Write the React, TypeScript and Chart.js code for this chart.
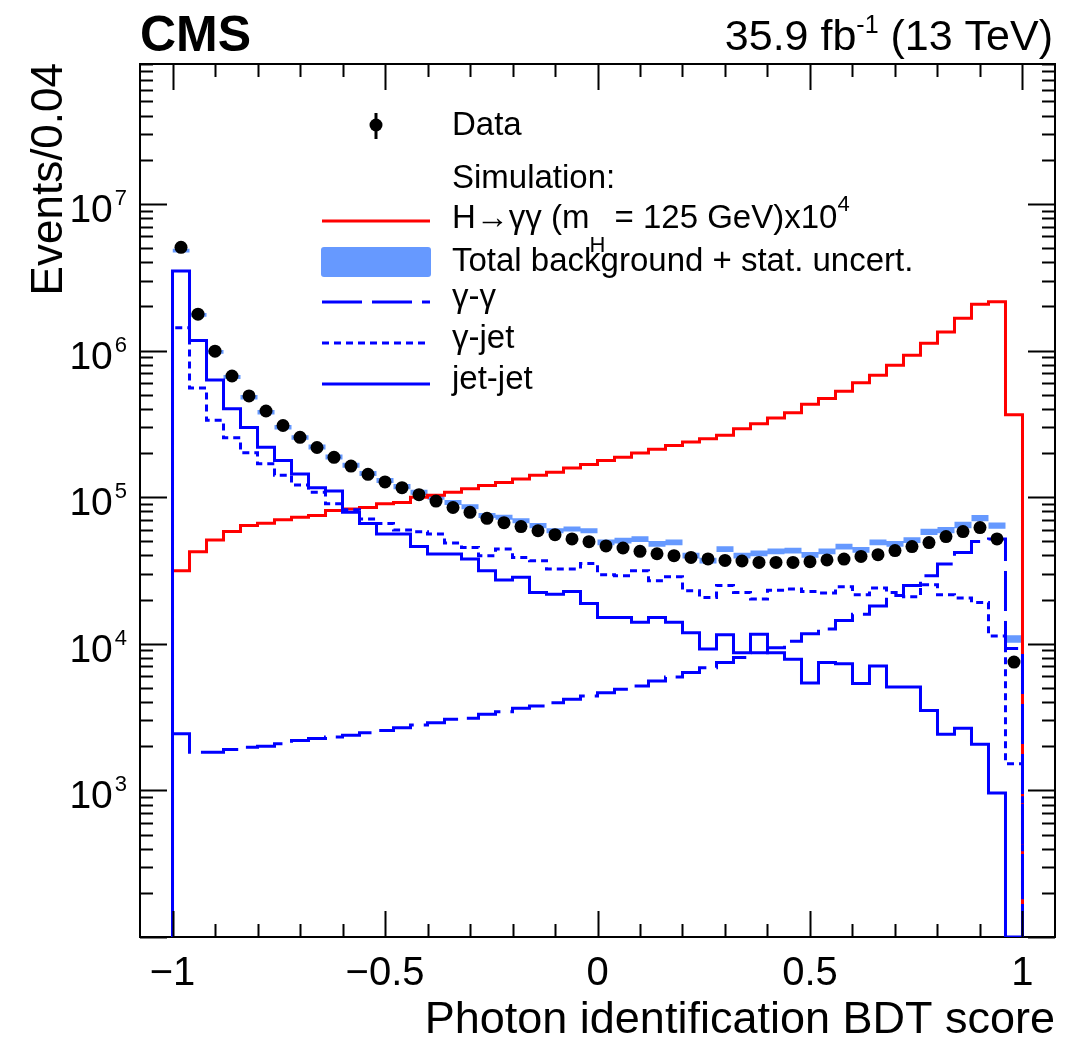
import React, { useEffect, useRef } from "react";
import { Chart, registerables } from "chart.js";

Chart.register(...registerables);

// ---------------- data (50 bins of width 0.04 from -1 to 1) ----------------
const BIN_LOW = -1;
const BIN_WIDTH = 0.04;

const dataEvents = [
  5.06e6, 1.77e6, 9.9e5, 6.7e5, 4.9e5, 3.87e5, 3.08e5, 2.56e5, 2.18e5, 1.87e5,
  1.63e5, 1.43e5, 1.27e5, 1.16e5, 1.04e5, 9.4e4, 8.5e4, 7.88e4, 7.17e4, 6.7e4,
  6.3e4, 5.9e4, 5.55e4, 5.19e4, 4.97e4, 4.65e4, 4.5e4, 4.27e4, 4.11e4, 3.99e4,
  3.88e4, 3.79e4, 3.7e4, 3.67e4, 3.59e4, 3.59e4, 3.59e4, 3.63e4, 3.73e4, 3.78e4,
  3.94e4, 4.05e4, 4.32e4, 4.6e4, 4.9e4, 5.38e4, 5.82e4, 6.2e4, 5.19e4, 7.5e3,
];

const totalBackground = [
  4.8e6, 1.75e6, 9.8e5, 6.6e5, 4.8e5, 3.8e5, 3.0e5, 2.55e5, 2.2e5, 1.88e5,
  1.65e5, 1.45e5, 1.3e5, 1.18e5, 1.08e5, 1.0e5, 9.2e4, 8.6e4, 7.5e4, 7.3e4,
  6.9e4, 6.4e4, 5.9e4, 6.07e4, 5.9e4, 4.92e4, 5.05e4, 5.18e4, 4.8e4, 4.92e4,
  3.99e4, 3.69e4, 4.43e4, 3.99e4, 4.14e4, 4.27e4, 4.32e4, 4.05e4, 4.27e4, 4.6e4,
  4.37e4, 4.92e4, 4.8e4, 5.1e4, 5.8e4, 5.97e4, 6.46e4, 7.2e4, 6.4e4, 1.08e4,
];

// relative statistical uncertainty of the total background
const backgroundStatUnc = [
  0.03, 0.03, 0.03, 0.03, 0.035, 0.035, 0.035, 0.035, 0.04, 0.04,
  0.04, 0.04, 0.04, 0.04, 0.04, 0.04, 0.04, 0.04, 0.04, 0.04,
  0.04, 0.04, 0.04, 0.04, 0.04, 0.045, 0.045, 0.045, 0.045, 0.045,
  0.045, 0.045, 0.045, 0.045, 0.045, 0.045, 0.045, 0.045, 0.045, 0.045,
  0.045, 0.045, 0.045, 0.045, 0.05, 0.05, 0.05, 0.05, 0.05, 0.06,
];

const gammaGamma = [
  2.43e3, 1.82e3, 1.82e3, 1.9e3, 1.97e3, 2.0e3, 2.08e3, 2.19e3, 2.26e3, 2.31e3,
  2.38e3, 2.47e3, 2.56e3, 2.67e3, 2.79e3, 2.89e3, 3.05e3, 3.11e3, 3.3e3, 3.44e3,
  3.63e3, 3.77e3, 3.96e3, 4.18e3, 4.4e3, 4.64e3, 4.9e3, 5.16e3, 5.57e3, 5.94e3,
  6.36e3, 6.87e3, 7.44e3, 8.05e3, 8.7e3, 9.4e3, 1.04e4, 1.17e4, 1.26e4, 1.44e4,
  1.59e4, 1.81e4, 2.13e4, 2.5e4, 2.91e4, 3.5e4, 4.2e4, 4.99e4, 5.19e4, 9.3e3,
];

const gammaJet = [
  1.43e6, 5.55e5, 3.34e5, 2.54e5, 2.01e5, 1.69e5, 1.41e5, 1.21e5, 1.08e5, 9.0e4,
  8.2e4, 7.1e4, 6.6e4, 5.98e4, 5.8e4, 5.6e4, 4.87e4, 4.54e4, 3.99e4, 4.43e4,
  3.88e4, 3.69e4, 3.24e4, 3.24e4, 3.53e4, 2.96e4, 2.91e4, 3.15e4, 2.69e4, 2.86e4,
  2.3e4, 2.07e4, 2.5e4, 2.24e4, 2.02e4, 2.32e4, 2.36e4, 2.27e4, 2.22e4, 2.45e4,
  2.16e4, 2.4e4, 2.24e4, 2.09e4, 2.53e4, 2.16e4, 2.05e4, 1.91e4, 1.13e4, 1.52e3,
];

const jetJet = [
  3.48e6, 1.17e6, 6.3e5, 4.0e5, 2.98e5, 2.19e5, 1.78e5, 1.44e5, 1.16e5, 1.1e5,
  7.9e4, 6.6e4, 5.6e4, 5.6e4, 4.6e4, 4.09e4, 4.09e4, 3.79e4, 3.15e4, 2.72e4,
  2.84e4, 2.24e4, 2.18e4, 2.27e4, 1.88e4, 1.51e4, 1.51e4, 1.4e4, 1.51e4, 1.4e4,
  1.19e4, 9.2e3, 1.15e4, 8.7e3, 1.16e4, 8.7e3, 7.85e3, 5.4e3, 7.45e3, 7.3e3,
  5.35e3, 7.06e3, 5.08e3, 5.08e3, 3.5e3, 2.41e3, 2.65e3, 2.06e3, 9.6e2, 0,
];

const higgsTimes1e4 = [
  3.15e4, 4.25e4, 5.1e4, 5.82e4, 6.4e4, 6.63e4, 7.0e4, 7.3e4, 7.5e4, 8.1e4,
  8.3e4, 8.5e4, 9.0e4, 9.2e4, 1.0e5, 1.03e5, 1.08e5, 1.14e5, 1.2e5, 1.26e5,
  1.33e5, 1.41e5, 1.48e5, 1.58e5, 1.67e5, 1.78e5, 1.87e5, 2.0e5, 2.12e5, 2.25e5,
  2.38e5, 2.5e5, 2.64e5, 2.93e5, 3.17e5, 3.46e5, 3.77e5, 4.3e5, 4.7e5, 5.27e5,
  6.04e5, 6.78e5, 7.94e5, 9.3e5, 1.12e6, 1.34e6, 1.66e6, 2.07e6, 2.15e6, 3.65e5,
];

// ---------------- axes ----------------
const X_MIN = -1.0765;
const X_MAX = 1.0765;
const Y_MIN = 100;
const Y_MAX = 9e7;

const xMajorTicks = [-1, -0.5, 0, 0.5, 1];
const xTickLabels = ["\u22121", "\u22120.5", "0", "0.5", "1"];
const xMinorTicks = [-0.9, -0.8, -0.7, -0.6, -0.4, -0.3, -0.2, -0.1, 0.1, 0.2, 0.3, 0.4, 0.6, 0.7, 0.8, 0.9];
const yDecadeExponents = [2, 3, 4, 5, 6, 7];
const yMinorMultipliers = [2, 3, 4, 5, 6, 7, 8, 9];
const yLabelExponents = [3, 4, 5, 6, 7];

const xTitle = "Photon identification BDT score";
const yTitle = "Events/0.04";

const FONT = '"Liberation Sans", Arial, Helvetica, sans-serif';
const BLUE = "#0000ff";
const RED = "#ff0000";
const BAND = "#6699ff";

// empty bins are drawn on the lower edge of the frame (log axis)
function histPoints(values: number[]) {
  const floor = (v: number) => (v > 0 ? v : Y_MIN);
  const pts: { x: number; y: number }[] = [{ x: BIN_LOW, y: Y_MIN }];
  values.forEach((v, i) => pts.push({ x: BIN_LOW + i * BIN_WIDTH, y: floor(v) }));
  pts.push({ x: BIN_LOW + values.length * BIN_WIDTH, y: Y_MIN });
  return pts;
}

function bandPoints(values: number[], unc: number[], sign: number) {
  const pts: { x: number; y: number }[] = values.map((v, i) => ({
    x: BIN_LOW + i * BIN_WIDTH,
    y: sign > 0 ? v * (1 + unc[i]) : v * (1 - unc[i]),
  }));
  const last = pts[pts.length - 1];
  pts.push({ x: BIN_LOW + values.length * BIN_WIDTH, y: last.y });
  return pts;
}

const decorPlugin = {
  id: "cmsDecor",
  beforeDatasetsDraw(chart: any) {
    const ctx: CanvasRenderingContext2D = chart.ctx;
    const { left, right, top, bottom } = chart.chartArea;
    ctx.save();
    ctx.strokeStyle = "#000";
    ctx.lineWidth = 2;
    ctx.strokeRect(left, top, right - left, bottom - top);
    ctx.restore();
  },
  afterDraw(chart: any) {
    const ctx: CanvasRenderingContext2D = chart.ctx;
    const xs = chart.scales.x;
    const ys = chart.scales.y;
    const { left, right, top, bottom } = chart.chartArea;
    ctx.save();
    ctx.setLineDash([]);
    ctx.strokeStyle = "#000";
    ctx.fillStyle = "#000";

    // left/right/top frame on top of curves
    ctx.lineWidth = 2;
    ctx.beginPath();
    ctx.moveTo(left, bottom);
    ctx.lineTo(left, top);
    ctx.lineTo(right, top);
    ctx.lineTo(right, bottom);
    ctx.stroke();

    // x ticks (inward, bottom and top)
    ctx.beginPath();
    const xTick = (v: number, len: number) => {
      const px = Math.round(xs.getPixelForValue(v)) + 0.5;
      ctx.moveTo(px, bottom);
      ctx.lineTo(px, bottom - len);
      ctx.moveTo(px, top);
      ctx.lineTo(px, top + len);
    };
    xMajorTicks.forEach((v) => xTick(v, 26));
    xMinorTicks.forEach((v) => xTick(v, 13));
    // y ticks (inward, left and right)
    const yTick = (v: number, len: number) => {
      if (v < Y_MIN || v > Y_MAX) return;
      const py = Math.round(ys.getPixelForValue(v)) + 0.5;
      ctx.moveTo(left, py);
      ctx.lineTo(left + len, py);
      ctx.moveTo(right, py);
      ctx.lineTo(right - len, py);
    };
    yDecadeExponents.forEach((e) => {
      yTick(Math.pow(10, e), 27);
      yMinorMultipliers.forEach((m) => yTick(m * Math.pow(10, e), 13));
    });
    ctx.stroke();

    // x tick labels
    ctx.font = `40px ${FONT}`;
    ctx.textAlign = "center";
    ctx.textBaseline = "alphabetic";
    xMajorTicks.forEach((v, i) => {
      ctx.fillText(xTickLabels[i], xs.getPixelForValue(v), 985);
    });

    // y tick labels 10^n
    yLabelExponents.forEach((e) => {
      const py = ys.getPixelForValue(Math.pow(10, e));
      ctx.font = `22px ${FONT}`;
      const sup = String(e);
      const supW = ctx.measureText(sup).width;
      const rightEdge = 127;
      ctx.textAlign = "left";
      ctx.fillText(sup, rightEdge - supW, py + 1);
      ctx.font = `39px ${FONT}`;
      ctx.textAlign = "right";
      ctx.fillText("10", rightEdge - supW - 2, py + 18);
    });

    // axis titles
    ctx.font = `45px ${FONT}`;
    ctx.textAlign = "right";
    ctx.fillText(xTitle, 1055, 1033);
    ctx.font = `44px ${FONT}`;
    ctx.save();
    ctx.translate(62, 63);
    ctx.rotate(-Math.PI / 2);
    ctx.textAlign = "right";
    ctx.fillText(yTitle, 0, 0);
    ctx.restore();

    // header
    ctx.textAlign = "left";
    ctx.font = `bold 50px ${FONT}`;
    ctx.fillText("CMS", 140, 51);
    const p1 = "35.9 fb";
    const p2 = "-1";
    const p3 = " (13 TeV)";
    const mainSize = 43;
    const supSize = 25;
    ctx.font = `${mainSize}px ${FONT}`;
    const w1 = ctx.measureText(p1).width;
    const w3 = ctx.measureText(p3).width;
    ctx.font = `${supSize}px ${FONT}`;
    const w2 = ctx.measureText(p2).width;
    let hx = 1053 - (w1 + w2 + w3);
    ctx.font = `${mainSize}px ${FONT}`;
    ctx.fillText(p1, hx, 50);
    hx += w1;
    ctx.font = `${supSize}px ${FONT}`;
    ctx.fillText(p2, hx, 33);
    hx += w2;
    ctx.font = `${mainSize}px ${FONT}`;
    ctx.fillText(p3, hx, 50);

    // ---------- legend ----------
    const tx = 452;
    const lx0 = 322;
    const lx1 = 430;
    const LS = 33;
    ctx.font = `${LS}px ${FONT}`;
    ctx.textAlign = "left";
    // Data
    ctx.lineWidth = 3;
    ctx.beginPath();
    ctx.moveTo(376, 113);
    ctx.lineTo(376, 139);
    ctx.stroke();
    ctx.beginPath();
    ctx.arc(376, 125, 6.5, 0, Math.PI * 2);
    ctx.fill();
    ctx.fillText("Data", tx, 135);
    ctx.fillText("Simulation:", tx, 188);
    // Higgs
    ctx.strokeStyle = RED;
    ctx.lineWidth = 3;
    ctx.beginPath();
    ctx.moveTo(lx0, 221);
    ctx.lineTo(lx1, 221);
    ctx.stroke();
    ctx.fillStyle = "#000";
    let hxx = tx;
    const seg = (t: string, size: number, y: number) => {
      ctx.font = `${size}px ${FONT}`;
      ctx.fillText(t, hxx, y);
      hxx += ctx.measureText(t).width;
    };
    seg("H\u2192\u03b3\u03b3 (m", LS, 228);
    seg("H", 22, 252);
    seg(" = 125 GeV)x10", LS, 228);
    seg("4", 22, 211);
    // background band
    ctx.fillStyle = BAND;
    ctx.beginPath();
    if ((ctx as any).roundRect) (ctx as any).roundRect(321, 247, 110, 30, 3);
    else ctx.rect(321, 247, 110, 30);
    ctx.fill();
    ctx.fillStyle = "#000";
    ctx.font = `${LS}px ${FONT}`;
    ctx.fillText("Total background + stat. uncert.", tx, 271);
    // gamma-gamma
    ctx.strokeStyle = BLUE;
    ctx.lineWidth = 3;
    ctx.setLineDash([40, 10]);
    ctx.beginPath();
    ctx.moveTo(lx0, 302);
    ctx.lineTo(lx1, 302);
    ctx.stroke();
    ctx.fillText("\u03b3-\u03b3", tx, 307);
    // gamma-jet
    ctx.setLineDash([7, 5]);
    ctx.beginPath();
    ctx.moveTo(lx0, 343);
    ctx.lineTo(lx1, 343);
    ctx.stroke();
    ctx.fillText("\u03b3-jet", tx, 348);
    // jet-jet
    ctx.setLineDash([]);
    ctx.beginPath();
    ctx.moveTo(lx0, 384);
    ctx.lineTo(lx1, 384);
    ctx.stroke();
    ctx.fillText("jet-jet", tx, 389);

    ctx.restore();
  },
};

export default function App() {
  const canvasRef = useRef<HTMLCanvasElement | null>(null);

  useEffect(() => {
    const canvas = canvasRef.current;
    if (!canvas) return;
    const binCenters = dataEvents.map((_, i) => BIN_LOW + (i + 0.5) * BIN_WIDTH);
    const histCommon = {
      type: "line" as const,
      borderWidth: 3,
      stepped: "before" as const,
      pointRadius: 0,
      pointHoverRadius: 0,
      fill: false,
      tension: 0,
      borderCapStyle: "butt" as const,
      borderJoinStyle: "miter" as const,
    };
    const chart = new Chart(canvas, {
      type: "line",
      data: {
        datasets: [
          {
            label: "Data",
            data: dataEvents.map((v, i) => ({ x: binCenters[i], y: v })),
            showLine: false,
            pointRadius: 6.5,
            pointHoverRadius: 6.5,
            pointBackgroundColor: "#000",
            pointBorderWidth: 0,
            borderColor: "#000",
            order: 0,
          },
          { ...histCommon, label: "jet-jet", data: histPoints(jetJet), borderColor: BLUE, order: 1 },
          {
            ...histCommon,
            label: "γ-jet",
            data: histPoints(gammaJet),
            borderColor: BLUE,
            borderDash: [7, 5],
            order: 2,
          },
          {
            ...histCommon,
            label: "γ-γ",
            data: histPoints(gammaGamma),
            borderColor: BLUE,
            borderDash: [40, 10],
            order: 3,
          },
          { ...histCommon, label: "H→γγ x1e4", data: histPoints(higgsTimes1e4), borderColor: RED, order: 4 },
          {
            ...histCommon,
            label: "bkg up",
            data: bandPoints(totalBackground, backgroundStatUnc, 1),
            borderColor: "rgba(0,0,0,0)",
            borderWidth: 1,
            backgroundColor: BAND,
            fill: "+1",
            order: 5,
          },
          {
            ...histCommon,
            label: "bkg down",
            data: bandPoints(totalBackground, backgroundStatUnc, -1),
            borderColor: "rgba(0,0,0,0)",
            borderWidth: 1,
            fill: false,
            order: 6,
          },
        ] as any,
      },
      options: {
        animation: false,
        responsive: false,
        devicePixelRatio: 1,
        events: [],
        layout: { padding: { left: 140, top: 64, right: 26, bottom: 104 } },
        plugins: {
          legend: { display: false },
          tooltip: { enabled: false },
        },
        scales: {
          x: { type: "linear", min: X_MIN, max: X_MAX, bounds: "data", display: false },
          y: { type: "logarithmic", min: Y_MIN, max: Y_MAX, bounds: "data", display: false },
        },
      },
      plugins: [decorPlugin],
    });
    return () => chart.destroy();
  }, []);

  return (
    <div style={{ position: "fixed", left: 0, top: 0, width: 1081, height: 1041, background: "#fff" }}>
      <canvas ref={canvasRef} width={1081} height={1041} style={{ display: "block", width: 1081, height: 1041 }} />
    </div>
  );
}
